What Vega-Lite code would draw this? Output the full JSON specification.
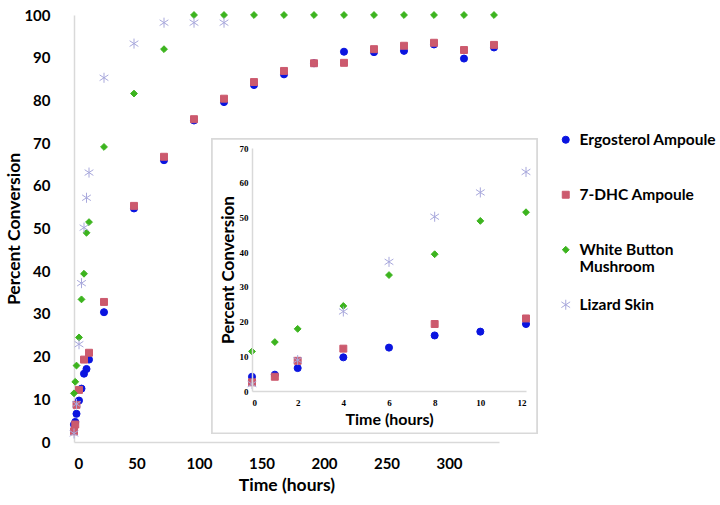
{
  "$schema": "https://vega.github.io/schema/vega-lite/v6.json",
  "width": 425,
  "height": 427,
  "autosize": {"type": "none"},
  "padding": {"left": 74, "top": 15, "right": 221, "bottom": 63},
  "background": "white",
  "config": {
    "view": {"stroke": null},
    "font": "Lato",
    "axis": {"grid": false, "ticks": false, "domainColor": "#d9d9d9", "domainWidth": 1.5, "labelColor": "black", "titleColor": "black"},
    "legend": {"labelFont": "Lato", "labelFontWeight": "bold", "labelFontSize": 15.5, "labelColor": "black"}
  },
  "datasets": {
    "conv": [
      {"series": "Ergosterol Ampoule", "time": 0, "pct": 4.1},
      {"series": "Ergosterol Ampoule", "time": 1, "pct": 4.7},
      {"series": "Ergosterol Ampoule", "time": 2, "pct": 6.6},
      {"series": "Ergosterol Ampoule", "time": 4, "pct": 9.7},
      {"series": "Ergosterol Ampoule", "time": 6, "pct": 12.5},
      {"series": "Ergosterol Ampoule", "time": 8, "pct": 16.0},
      {"series": "Ergosterol Ampoule", "time": 10, "pct": 17.1},
      {"series": "Ergosterol Ampoule", "time": 12, "pct": 19.3},
      {"series": "Ergosterol Ampoule", "time": 24, "pct": 30.4},
      {"series": "Ergosterol Ampoule", "time": 48, "pct": 54.7},
      {"series": "Ergosterol Ampoule", "time": 72, "pct": 66.0},
      {"series": "Ergosterol Ampoule", "time": 96, "pct": 75.3},
      {"series": "Ergosterol Ampoule", "time": 120, "pct": 79.6},
      {"series": "Ergosterol Ampoule", "time": 144, "pct": 83.6},
      {"series": "Ergosterol Ampoule", "time": 168, "pct": 86.1},
      {"series": "Ergosterol Ampoule", "time": 192, "pct": 88.7},
      {"series": "Ergosterol Ampoule", "time": 216, "pct": 91.4},
      {"series": "Ergosterol Ampoule", "time": 240, "pct": 91.3},
      {"series": "Ergosterol Ampoule", "time": 264, "pct": 91.6},
      {"series": "Ergosterol Ampoule", "time": 288, "pct": 93.1},
      {"series": "Ergosterol Ampoule", "time": 312, "pct": 89.8},
      {"series": "Ergosterol Ampoule", "time": 336, "pct": 92.4},
      {"series": "7-DHC Ampoule", "time": 0, "pct": 2.5},
      {"series": "7-DHC Ampoule", "time": 1, "pct": 4.1},
      {"series": "7-DHC Ampoule", "time": 2, "pct": 8.7},
      {"series": "7-DHC Ampoule", "time": 4, "pct": 12.2},
      {"series": "7-DHC Ampoule", "time": 8, "pct": 19.3},
      {"series": "7-DHC Ampoule", "time": 12, "pct": 20.9},
      {"series": "7-DHC Ampoule", "time": 24, "pct": 32.8},
      {"series": "7-DHC Ampoule", "time": 48, "pct": 55.3},
      {"series": "7-DHC Ampoule", "time": 72, "pct": 66.8},
      {"series": "7-DHC Ampoule", "time": 96, "pct": 75.6},
      {"series": "7-DHC Ampoule", "time": 120, "pct": 80.4},
      {"series": "7-DHC Ampoule", "time": 144, "pct": 84.3},
      {"series": "7-DHC Ampoule", "time": 168, "pct": 86.9},
      {"series": "7-DHC Ampoule", "time": 192, "pct": 88.7},
      {"series": "7-DHC Ampoule", "time": 216, "pct": 88.8},
      {"series": "7-DHC Ampoule", "time": 240, "pct": 92.0},
      {"series": "7-DHC Ampoule", "time": 264, "pct": 92.8},
      {"series": "7-DHC Ampoule", "time": 288, "pct": 93.5},
      {"series": "7-DHC Ampoule", "time": 312, "pct": 91.8},
      {"series": "7-DHC Ampoule", "time": 336, "pct": 93.0},
      {"series": "White Button Mushroom", "time": 0, "pct": 11.4},
      {"series": "White Button Mushroom", "time": 1, "pct": 14.1},
      {"series": "White Button Mushroom", "time": 2, "pct": 17.9},
      {"series": "White Button Mushroom", "time": 4, "pct": 24.5},
      {"series": "White Button Mushroom", "time": 6, "pct": 33.4},
      {"series": "White Button Mushroom", "time": 8, "pct": 39.4},
      {"series": "White Button Mushroom", "time": 10, "pct": 49.0},
      {"series": "White Button Mushroom", "time": 12, "pct": 51.5},
      {"series": "White Button Mushroom", "time": 24, "pct": 69.1},
      {"series": "White Button Mushroom", "time": 48, "pct": 81.6},
      {"series": "White Button Mushroom", "time": 72, "pct": 92.0},
      {"series": "White Button Mushroom", "time": 96, "pct": 100},
      {"series": "White Button Mushroom", "time": 120, "pct": 100},
      {"series": "White Button Mushroom", "time": 144, "pct": 100},
      {"series": "White Button Mushroom", "time": 168, "pct": 100},
      {"series": "White Button Mushroom", "time": 192, "pct": 100},
      {"series": "White Button Mushroom", "time": 216, "pct": 100},
      {"series": "White Button Mushroom", "time": 240, "pct": 100},
      {"series": "White Button Mushroom", "time": 264, "pct": 100},
      {"series": "White Button Mushroom", "time": 288, "pct": 100},
      {"series": "White Button Mushroom", "time": 312, "pct": 100},
      {"series": "White Button Mushroom", "time": 336, "pct": 100},
      {"series": "Lizard Skin", "time": 0, "pct": 2.0},
      {"series": "Lizard Skin", "time": 2, "pct": 8.9},
      {"series": "Lizard Skin", "time": 4, "pct": 22.9},
      {"series": "Lizard Skin", "time": 6, "pct": 37.2},
      {"series": "Lizard Skin", "time": 8, "pct": 50.2},
      {"series": "Lizard Skin", "time": 10, "pct": 57.2},
      {"series": "Lizard Skin", "time": 12, "pct": 63.1},
      {"series": "Lizard Skin", "time": 24, "pct": 85.3},
      {"series": "Lizard Skin", "time": 48, "pct": 93.3},
      {"series": "Lizard Skin", "time": 72, "pct": 98.2},
      {"series": "Lizard Skin", "time": 96, "pct": 98.2},
      {"series": "Lizard Skin", "time": 120, "pct": 98.2}
    ]
  },
  "data": {"name": "conv"},
  "encoding": {
    "color": {
      "field": "series", "type": "nominal", "title": null,
      "sort": ["Ergosterol Ampoule", "7-DHC Ampoule", "White Button Mushroom", "Lizard Skin"],
      "scale": {"domain": ["Ergosterol Ampoule", "7-DHC Ampoule", "White Button Mushroom", "Lizard Skin"], "range": ["#0a14e0", "#cc5a6e", "#3cb41e", "#a8a8dc"]},
      "legend": {
        "orient": "none", "legendX": 484, "legendY": 117,
        "gridAlign": "all", "rowPadding": 21, "symbolStrokeWidth": 1,
        "labelExpr": "datum.label == 'White Button Mushroom' ? ['White Button', 'Mushroom'] : datum.label",
        "labelBaseline": "middle", "labelOffset": 6
      }
    },
    "stroke": {
      "field": "series", "type": "nominal", "title": null,
      "scale": {"domain": ["Ergosterol Ampoule", "7-DHC Ampoule", "White Button Mushroom", "Lizard Skin"], "range": ["#0a14e0", "#cc5a6e", "#3cb41e", "#a8a8dc"]}
    },
    "shape": {
      "field": "series", "type": "nominal", "title": null,
      "scale": {"domain": ["Ergosterol Ampoule", "7-DHC Ampoule", "White Button Mushroom", "Lizard Skin"], "range": ["circle", "square", "diamond", "M0,-1.5L0,1.5M-1.3,-0.85L1.3,0.85M-1.3,0.85L1.3,-0.85"]}
    },
    "size": {
      "field": "series", "type": "nominal", "title": null,
      "scale": {"domain": ["Ergosterol Ampoule", "7-DHC Ampoule", "White Button Mushroom", "Lizard Skin"], "range": [50, 45, 30, 160]}
    }
  },
  "layer": [
    {
      "mark": {"type": "point", "filled": true, "opacity": 1, "strokeWidth": 1, "clip": false},
      "encoding": {
        "x": {"field": "time", "type": "quantitative", "title": "Time (hours)",
          "scale": {"domain": [0, 340], "nice": false},
          "axis": {"values": [0, 50, 100, 150, 200, 250, 300], "labelFontSize": 15, "labelFontWeight": "bold", "labelPadding": 14,
            "titleFontSize": 17.5, "titleFontWeight": "bold", "titlePadding": 5}},
        "y": {"field": "pct", "type": "quantitative", "title": "Percent Conversion",
          "scale": {"domain": [0, 100], "nice": false},
          "axis": {"values": [0, 10, 20, 30, 40, 50, 60, 70, 80, 90, 100], "labelFontSize": 15, "labelFontWeight": "bold", "labelPadding": 24,
            "titleFontSize": 17.5, "titleFontWeight": "bold", "titlePadding": 0}}
      }
    },
    {
      "transform": [{"filter": "datum.time <= 12"}],
      "encoding": {
        "x": {"field": "time", "type": "quantitative", "title": "Time (hours)",
          "scale": {"domain": [0, 12], "nice": false, "range": [178, 452]},
          "axis": {"orient": "bottom", "offset": -51, "zindex": 1, "values": [0, 2, 4, 6, 8, 10, 12],
            "labelFont": "Liberation Serif", "labelFontSize": 9, "labelFontWeight": "bold", "labelPadding": 7,
            "titleFontSize": 16, "titleFontWeight": "bold", "titlePadding": 4}},
        "y": {"field": "pct", "type": "quantitative", "title": "Percent Conversion",
          "scale": {"domain": [0, 70], "nice": false, "range": [376, 133]},
          "axis": {"orient": "left", "offset": -178, "zindex": 1, "values": [0, 10, 20, 30, 40, 50, 60, 70],
            "labelFont": "Liberation Serif", "labelFontSize": 9, "labelFontWeight": "bold", "labelPadding": 4,
            "titleFontSize": 17, "titleFontWeight": "bold", "titlePadding": 2}}
      },
      "layer": [
        {
          "mark": {"type": "rect", "fill": "white", "stroke": "#d9d9d9", "strokeWidth": 1.5, "clip": false},
          "encoding": {
            "x": {"datum": -1.75, "type": "quantitative"},
            "x2": {"datum": 12.48},
            "y": {"datum": -12.2, "type": "quantitative"},
            "y2": {"datum": 72.6},
            "color": null, "stroke": null, "shape": null, "size": null
          }
        },
        {
          "mark": {"type": "point", "filled": true, "opacity": 1, "strokeWidth": 1, "clip": false}
        }
      ]
    }
  ],
  "resolve": {"scale": {"x": "independent", "y": "independent"}, "axis": {"x": "independent", "y": "independent"}}
}
